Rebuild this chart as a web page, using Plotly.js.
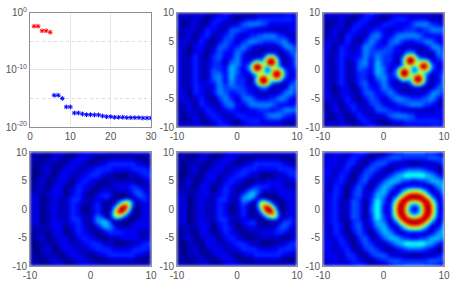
<!DOCTYPE html>
<html><head><meta charset="utf-8">
<script src="https://cdn.plot.ly/plotly-3.0.1.min.js"></script>
<style>html,body{margin:0;padding:0;background:#fff}#c{width:468px;height:285px}
.heatmaplayer image{filter:blur(1.4px)}</style>
</head><body><div id="c"></div>
<script>
const svX=[1,2,3,4,5];
const svRed=[4e-3,4e-3,6.3e-4,6.3e-4,3.6e-4];
const svX2=[6,7,8,9,10,11,12,13,14,15,16,17,18,19,20,21,22,23,24,25,26,27,28,29,30];
const svBlue=[3.5e-15,3.5e-15,1e-15,3.2e-17,3.2e-17,2.8e-18,2.8e-18,1.9e-18,1.4e-18,1.4e-18,1.3e-18,1.3e-18,8.3e-19,6.3e-19,6.3e-19,5e-19,5e-19,5e-19,4.3e-19,4.3e-19,4.3e-19,4.3e-19,3.7e-19,3.7e-19,3.7e-19];
const gridX=[-10,-9,-8,-7,-6,-5,-4,-3,-2,-1,0,1,2,2.5,3,3.5,4,4.5,5,5.5,6,6.5,7,7.5,8,9,10];
const gridY=[10,9,8,7,6,5,4,3,2.5,2,1.5,1,.5,0,-.5,-1,-1.5,-2,-2.5,-3,-4,-5,-6,-7,-8,-9,-10];
const zLobes=[
[1,2,1,1,2,1,0,1,3,2,1,1,0,0,0,1,1,1,1,1,1,1,1,1,2,2,1],
[1,1,1,2,1,0,2,3,2,1,0,1,2,2,2,3,3,3,3,3,3,3,3,3,3,3,2],
[2,0,1,2,0,1,3,2,1,1,2,4,5,5,5,5,4,4,3,2,2,2,2,2,2,2,1],
[1,1,2,1,1,3,2,1,1,4,4,3,2,2,1,1,1,1,1,1,1,1,1,1,1,2,2],
[0,1,2,0,2,3,1,1,3,4,2,1,2,3,3,4,4,5,5,5,5,4,3,3,2,1,1],
[1,2,1,1,3,1,0,2,4,3,1,3,5,5,5,4,4,3,3,3,3,4,4,5,5,2,1],
[1,2,0,2,2,1,1,4,4,2,3,5,3,2,1,1,1,1,1,1,1,1,2,3,5,5,2],
[2,1,0,2,2,0,2,4,2,2,5,3,1,1,1,1,1,1,2,2,2,1,1,1,1,4,4],
[2,1,1,3,1,0,3,4,2,2,5,2,1,1,1,1,1,3,8,10,9,4,1,1,1,3,5],
[2,1,1,3,1,1,3,4,1,3,5,2,1,1,3,3,3,7,14,18,16,10,3,1,1,2,5],
[2,1,1,3,1,1,3,3,1,4,5,2,2,5,9,10,7,9,17,20,19,12,4,1,1,2,5],
[2,1,1,3,1,1,3,3,1,5,5,2,4,11,17,18,13,9,14,18,16,10,4,2,1,2,5],
[2,1,1,3,1,1,3,3,2,6,4,2,5,13,20,20,16,8,6,9,10,8,6,3,1,2,4],
[2,1,1,3,1,1,4,3,2,6,4,1,4,11,17,18,13,7,3,6,12,15,13,8,3,2,3],
[2,1,1,3,1,1,4,4,2,6,4,2,2,5,9,11,10,8,6,9,17,20,18,11,4,1,3],
[2,1,1,3,1,1,4,5,2,6,3,2,1,2,4,9,14,15,11,10,16,19,17,10,4,1,3],
[2,1,1,3,1,1,4,5,2,6,3,3,1,1,6,13,19,20,15,9,11,14,12,6,2,2,3],
[2,1,1,3,1,2,3,5,2,5,3,3,1,1,5,12,19,20,15,8,5,5,4,2,1,3,4],
[2,1,1,3,2,2,2,5,3,5,3,3,1,1,3,8,12,13,10,4,2,1,1,1,1,4,4],
[2,1,1,3,2,1,2,5,3,4,4,3,2,2,1,3,5,5,4,1,1,1,1,1,1,5,3],
[1,2,0,3,2,1,2,5,4,2,3,4,2,2,1,1,1,1,1,1,1,1,2,3,5,5,2],
[1,2,1,1,3,1,0,3,5,3,1,4,5,4,3,2,2,2,2,3,3,4,5,5,4,2,1],
[0,1,2,0,3,2,1,1,4,5,2,2,4,5,5,5,5,5,5,5,4,3,2,2,2,2,3],
[1,1,2,1,1,3,2,1,2,3,2,1,2,2,2,3,3,3,3,2,2,3,3,4,5,5,4],
[1,0,1,2,0,2,3,2,1,1,3,3,2,2,2,2,2,3,4,5,5,5,5,4,3,2,2],
[1,1,1,2,1,0,2,3,2,1,0,2,3,3,3,3,2,2,2,2,2,2,2,1,1,1,1],
[1,2,1,1,2,1,0,2,3,2,1,1,1,1,1,1,1,1,1,1,1,1,1,1,1,1,1]];
const zSpot=[
[0,1,1,0,1,2,1,0,1,2,2,2,2,2,1,1,1,1,1,1,1,1,1,2,2,2,2],
[1,1,0,1,2,1,0,1,2,2,1,0,0,0,1,1,1,1,1,1,1,1,1,0,0,0,1],
[1,0,1,1,1,0,1,2,2,1,0,1,2,2,3,3,3,3,3,3,3,3,3,2,2,1,0],
[1,0,1,2,0,1,2,2,1,1,2,3,3,3,3,2,2,2,2,2,2,2,3,3,3,3,2],
[0,0,1,1,0,2,2,1,1,2,3,3,2,1,1,1,0,0,0,0,0,1,1,1,2,3,3],
[0,1,2,0,1,2,2,0,2,3,2,1,0,0,1,1,1,1,1,1,1,1,1,0,0,1,2],
[0,1,1,0,2,2,0,1,3,2,1,0,1,1,1,1,2,2,2,2,2,3,3,3,2,1,1],
[1,1,1,1,2,2,0,2,3,2,0,1,2,2,2,1,1,1,1,1,1,2,3,4,4,2,1],
[1,2,0,1,2,2,0,2,3,1,0,2,3,3,3,1,0,0,0,0,0,1,2,3,4,3,0],
[1,2,0,1,2,1,1,3,3,1,1,2,2,3,2,0,0,1,1,1,2,1,1,2,3,3,1],
[1,2,0,1,2,1,1,3,3,1,1,2,1,1,0,1,1,2,4,6,7,5,2,1,2,3,1],
[1,2,0,1,2,1,1,3,2,1,1,3,1,0,1,1,2,5,9,12,13,8,3,0,1,2,1],
[1,2,0,1,2,1,1,3,2,0,1,3,1,0,1,2,5,12,17,19,16,8,2,0,1,2,1],
[1,2,0,1,2,1,1,3,2,0,1,3,1,0,1,3,9,16,20,19,13,5,1,0,1,2,1],
[1,2,0,1,2,1,1,3,2,0,1,3,1,0,1,5,12,17,18,14,7,3,1,0,1,2,1],
[1,2,0,1,2,1,1,3,2,1,1,4,2,0,1,5,11,12,10,6,3,1,0,0,1,2,1],
[1,2,0,1,2,1,1,3,3,1,1,5,4,2,1,3,6,6,4,2,1,0,0,1,1,2,1],
[1,2,0,1,2,1,1,3,3,1,1,5,6,5,3,1,1,1,1,1,0,0,1,1,2,2,1],
[1,2,0,1,2,2,1,2,3,1,1,4,6,6,5,2,1,0,0,0,0,1,1,2,2,2,1],
[1,1,1,1,2,2,0,2,3,2,0,2,5,6,5,4,2,1,1,1,1,1,2,2,2,2,1],
[0,1,1,0,2,2,0,1,3,2,1,0,1,2,3,3,3,3,3,2,2,2,2,2,1,1,1],
[0,1,2,0,1,2,2,0,2,3,2,1,0,0,1,1,1,1,2,2,2,2,2,2,1,1,2],
[0,0,1,1,0,2,2,1,1,2,3,3,2,1,1,1,0,0,0,0,0,1,1,1,2,3,3],
[1,0,1,2,0,1,2,2,1,1,2,3,3,3,3,2,2,2,2,2,2,2,3,3,3,3,2],
[1,0,1,1,1,0,1,2,2,1,0,1,2,2,3,3,3,3,3,3,3,3,3,2,2,1,0],
[1,1,0,1,2,1,0,1,2,2,1,0,0,0,1,1,1,1,1,1,1,1,1,0,0,0,1],
[0,1,1,0,1,2,1,0,1,2,2,2,2,2,1,1,1,1,1,1,1,1,1,2,2,2,2]];
const zRing=[
[1,1,2,2,1,2,3,3,1,0,0,2,3,3,3,4,4,4,4,4,4,4,3,3,3,2,0],
[1,2,2,1,2,3,2,1,0,2,3,4,4,4,3,3,3,3,3,3,3,3,3,4,4,4,3],
[1,2,2,1,3,3,1,0,3,4,4,2,1,1,1,1,0,0,0,0,0,1,1,1,1,2,4],
[2,2,1,2,3,1,0,3,4,3,1,0,2,2,3,3,4,4,4,4,4,3,3,2,2,0,1],
[2,2,1,3,2,0,2,4,3,1,1,3,5,6,6,8,8,8,8,8,8,8,6,6,5,3,1],
[2,1,2,3,1,0,3,4,1,1,4,6,6,5,4,3,3,2,2,2,3,3,4,5,6,6,4],
[2,1,3,2,0,2,4,2,0,3,6,5,2,1,1,1,2,2,2,2,2,1,1,1,2,5,6],
[2,1,3,2,0,3,4,1,2,5,6,2,1,3,6,9,12,14,14,14,12,9,6,3,1,2,6],
[1,2,3,2,0,3,4,1,2,6,5,1,3,7,11,15,18,19,19,19,18,15,11,7,3,1,5],
[1,2,3,1,0,3,3,1,3,6,4,1,6,11,16,19,19,19,19,19,19,19,16,11,6,1,4],
[1,2,3,1,1,4,3,0,3,8,3,1,9,15,19,19,17,15,14,15,17,19,19,15,9,1,3],
[1,2,3,1,1,4,3,0,3,8,3,2,12,18,19,17,12,8,7,8,12,17,19,18,12,2,3],
[1,2,3,1,1,4,3,0,4,8,2,2,14,19,19,15,8,4,3,4,8,15,19,19,14,2,2],
[1,2,3,1,1,4,3,0,4,8,2,2,14,19,19,14,7,3,2,3,7,14,19,19,14,2,2],
[1,2,3,1,1,4,3,0,4,8,2,2,14,19,19,15,8,4,3,4,8,15,19,19,14,2,2],
[1,2,3,1,1,4,3,0,3,8,3,2,12,18,19,17,12,8,7,8,12,17,19,18,12,2,3],
[1,2,3,1,1,4,3,0,3,8,3,1,9,15,19,19,17,15,14,15,17,19,19,15,9,1,3],
[1,2,3,1,0,3,3,1,3,6,4,1,6,11,16,19,19,19,19,19,19,19,16,11,6,1,4],
[1,2,3,2,0,3,4,1,2,6,5,1,3,7,11,15,18,19,19,19,18,15,11,7,3,1,5],
[2,1,3,2,0,3,4,1,2,5,6,2,1,3,6,9,12,14,14,14,12,9,6,3,1,2,6],
[2,1,3,2,0,2,4,2,0,3,6,5,2,1,1,1,2,2,2,2,2,1,1,1,2,5,6],
[2,1,2,3,1,0,3,4,1,1,4,6,6,5,4,3,3,2,2,2,3,3,4,5,6,6,4],
[2,2,1,3,2,0,2,4,3,1,1,3,5,6,6,8,8,8,8,8,8,8,6,6,5,3,1],
[2,2,1,2,3,1,0,3,4,3,1,0,2,2,3,3,4,4,4,4,4,3,3,2,2,0,1],
[1,2,2,1,3,3,1,0,3,4,4,2,1,1,1,1,0,0,0,0,0,1,1,1,1,2,4],
[1,2,2,1,2,3,2,1,0,2,3,4,4,4,3,3,3,3,3,3,3,3,3,4,4,4,3],
[1,1,2,2,1,2,3,3,1,0,0,2,3,3,3,4,4,4,4,4,4,4,3,3,3,2,0]];
const yFlipped=gridY.map(v=>-v);
const jet=[[0,'rgb(0,0,128)'],[0.11,'rgb(0,0,255)'],[0.36,'rgb(0,255,255)'],[0.61,'rgb(255,255,0)'],[0.86,'rgb(255,0,0)'],[1,'rgb(128,0,0)']];
const heat=(z,y,xa,ya)=>({type:'heatmap',x:gridX,y:y,z:z,zmin:0,zmax:20,zsmooth:'best',colorscale:jet,showscale:false,hoverinfo:'skip',xaxis:xa,yaxis:ya});
const mk=(x,y,c,xa,ya)=>({type:'scatter',mode:'markers',x:x,y:y,xaxis:xa,yaxis:ya,marker:{symbol:'asterisk-open',size:4,color:c,line:{color:c,width:1}},hoverinfo:'skip'});
const data=[
 mk(svX,svRed,'#ff0000','x','y'),mk(svX2,svBlue,'#0000ff','x','y'),
 heat(zLobes,gridY,'x2','y2'),heat(zLobes,yFlipped,'x3','y3'),
 heat(zSpot,gridY,'x4','y4'),heat(zSpot,yFlipped,'x5','y5'),heat(zRing,gridY,'x6','y6')];
const W=468,H=285;
const colsPx=[[30,151],[177,297],[323,444]];
const rowsPx=[[12.5,127],[152,266]];
const dx=c=>[colsPx[c][0]/W,colsPx[c][1]/W];
const dy=r=>[1-rowsPx[r][1]/H,1-rowsPx[r][0]/H];
const font={family:'"Liberation Sans",Arial,sans-serif',size:10,color:'#555555'};
const base={showline:true,mirror:true,linecolor:'#8f8f9c',linewidth:1,ticks:'',showgrid:false,zeroline:false,tickfont:font,fixedrange:true};
const ax=(dom,anchor,vals)=>Object.assign({},base,{domain:dom,anchor:anchor,range:[-10,10],tickmode:'array',tickvals:vals,ticktext:vals.map(String)});
const xv=[-10,0,10],yv=[-10,-5,0,5,10];
const layout={width:W,height:H,margin:{l:0,r:0,t:0,b:0},paper_bgcolor:'#fff',plot_bgcolor:'#fff',showlegend:false,font:font,
 xaxis:Object.assign({},base,{domain:dx(0),anchor:'y',range:[0,30],tickmode:'array',tickvals:[0,10,20,30],ticktext:['0','10','20','30'],showgrid:true,gridcolor:'#e6e6e6'}),
 yaxis:Object.assign({},base,{domain:dy(0),anchor:'x',type:'log',range:[-20,0],tickmode:'array',tickvals:[1e-20,1e-10,1],ticktext:['10<sup>-20</sup>','10<sup>-10</sup>','10<sup>0</sup>'],showgrid:true,gridcolor:'#e6e6e6',
   minor:{tickmode:'array',tickvals:[1e-15,1e-5],showgrid:true,gridcolor:'#dddddd',griddash:'dot',ticks:''}}),
 xaxis2:ax(dx(1),'y2',xv),yaxis2:ax(dy(0),'x2',yv),
 xaxis3:ax(dx(2),'y3',xv),yaxis3:ax(dy(0),'x3',yv),
 xaxis4:ax(dx(0),'y4',xv),yaxis4:ax(dy(1),'x4',yv),
 xaxis5:ax(dx(1),'y5',xv),yaxis5:ax(dy(1),'x5',yv),
 xaxis6:ax(dx(2),'y6',xv),yaxis6:ax(dy(1),'x6',yv)};
Plotly.newPlot('c',data,layout,{displayModeBar:false,staticPlot:true});
</script></body></html>
